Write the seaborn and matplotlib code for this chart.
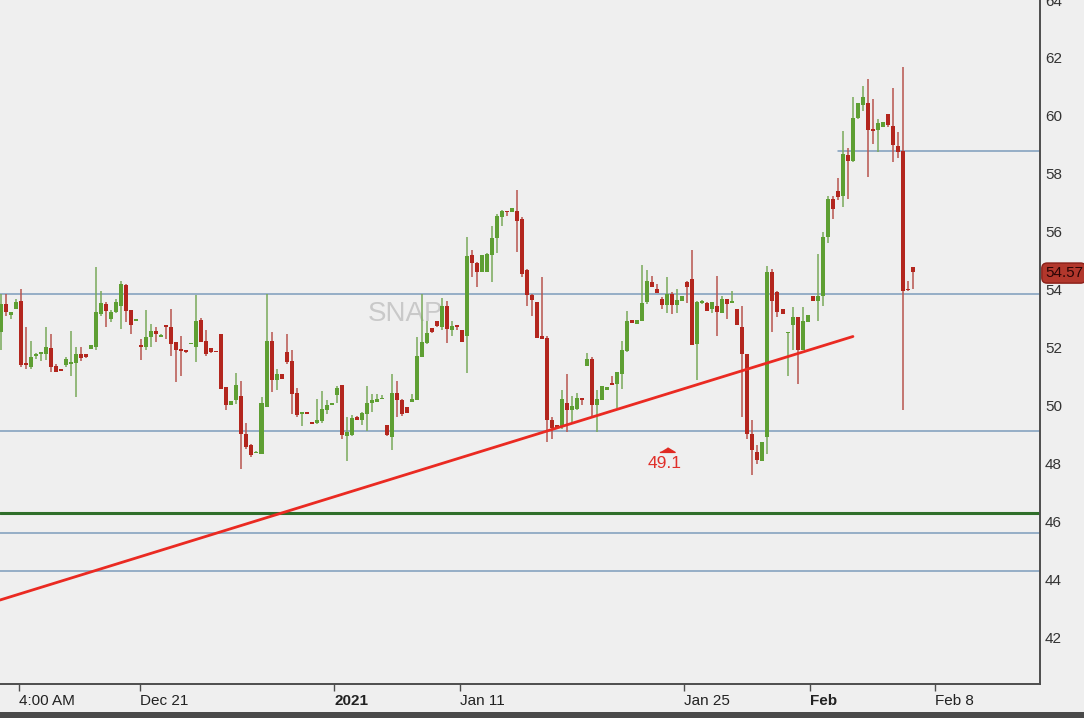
import numpy as np
import pandas as pd
import matplotlib
matplotlib.use("Agg")
import matplotlib.pyplot as plt
import seaborn as sns
from matplotlib.patches import Rectangle

# ---------------- data ----------------
opens = [52.53, 53.51, 53.13, 53.33, 53.59, 51.42, 51.34, 51.72, 51.78, 51.78,
         51.99, 51.35, 51.21, 51.38, 51.44, 51.46, 51.76, 51.76, 51.95, 52.03,
         53.16, 53.51, 52.99, 53.22, 53.45, 54.17, 53.28, 52.93, 52.05, 52.01,
         52.36, 52.56, 52.37, 52.76, 52.70, 52.18, 51.96, 51.90, 52.12, 52.01,
         52.95, 52.22, 51.98, 51.85, 52.47, 50.63, 50.00, 50.17, 50.34, 49.02,
         48.62, 48.35, 48.31, 49.96, 52.21, 50.89, 51.07, 51.84, 51.55, 50.44,
         49.71, 49.72, 49.38, 49.39, 49.46, 49.83, 50.01, 50.35, 50.72, 48.93,
         48.97, 49.60, 49.48, 49.69, 50.08, 50.12, 50.22, 49.31, 48.91, 50.43,
         50.17, 49.94, 50.12, 50.20, 51.67, 52.15, 52.67, 52.93, 52.70, 53.45,
         52.61, 52.76, 52.61, 52.41, 55.21, 54.91, 54.60, 54.60, 55.21, 55.78,
         56.52, 56.73, 56.67, 56.73, 56.44, 54.66, 53.82, 53.56, 52.41, 52.33,
         49.51, 49.31, 49.28, 50.08, 49.83, 49.89, 50.26, 51.35, 51.61, 50.00,
         50.20, 50.52, 50.77, 50.75, 51.10, 51.87, 52.95, 52.82, 52.91, 53.56,
         54.25, 54.02, 53.68, 53.48, 53.85, 53.48, 53.62, 54.25, 54.37, 52.13,
         53.53, 53.53, 53.33, 53.45, 53.18, 53.68, 53.53, 53.33, 52.72, 51.78,
         49.02, 48.39, 48.08, 48.91, 54.60, 53.91, 53.33, 52.50, 52.76, 53.04,
         51.92, 52.87, 53.79, 53.60, 53.79, 55.81, 57.13, 57.39, 57.24, 58.66,
         58.43, 59.92, 60.38, 60.46, 59.54, 59.51, 59.60, 60.06, 59.66, 58.97,
         58.77, 54.02, 54.77]
highs = [53.85, 53.85, 53.24, 53.66, 54.02, 52.70, 52.21, 51.80, 51.80, 52.70,
         52.47, 51.44, 51.22, 51.67, 52.56, 52.03, 52.03, 51.78, 52.07, 54.77,
         53.94, 53.56, 53.28, 53.68, 54.31, 54.20, 53.28, 53.00, 52.30, 53.28,
         52.82, 52.70, 52.47, 52.76, 53.33, 52.18, 52.41, 51.92, 52.14, 53.83,
         53.02, 52.59, 51.98, 51.86, 52.47, 50.63, 50.15, 51.11, 50.86, 49.39,
         48.68, 48.42, 50.29, 53.85, 52.53, 51.26, 51.07, 52.47, 51.90, 50.61,
         49.74, 49.73, 49.39, 50.23, 50.50, 50.17, 50.08, 50.66, 50.72, 49.60,
         49.66, 49.62, 49.77, 50.66, 50.40, 50.40, 50.35, 49.31, 51.09, 50.86,
         50.23, 49.94, 50.40, 52.36, 53.85, 52.93, 52.67, 52.93, 53.71, 53.62,
         52.93, 52.76, 52.61, 55.80, 55.35, 54.94, 55.21, 55.25, 56.21, 56.61,
         56.75, 56.73, 56.82, 57.44, 56.50, 54.71, 53.85, 53.56, 54.45, 52.41,
         49.60, 49.31, 50.52, 51.09, 50.31, 50.43, 50.26, 51.80, 51.67, 50.52,
         50.66, 50.63, 51.03, 51.15, 52.24, 53.25, 52.95, 52.96, 54.86, 54.66,
         54.48, 54.20, 53.76, 54.45, 53.91, 54.02, 53.79, 54.31, 55.35, 53.62,
         53.64, 53.56, 53.56, 54.48, 53.79, 53.68, 53.96, 53.33, 53.45, 51.78,
         49.48, 48.62, 48.74, 54.83, 54.71, 53.96, 53.33, 52.53, 53.41, 53.07,
         53.41, 53.13, 53.79, 55.23, 55.98, 57.24, 57.24, 57.85, 59.46, 58.89,
         60.66, 60.46, 61.03, 61.26, 60.58, 59.89, 59.80, 60.08, 60.95, 59.43,
         61.69, 54.29, 54.77]
lows = [51.90, 53.10, 53.00, 53.33, 51.32, 51.26, 51.26, 51.60, 51.55, 51.57,
        51.15, 51.15, 51.18, 51.34, 51.03, 50.29, 51.53, 51.65, 51.95, 51.90,
        53.10, 52.70, 52.87, 53.18, 52.64, 52.87, 52.45, 52.93, 51.57, 51.90,
        52.03, 52.18, 52.36, 52.30, 51.69, 50.80, 51.03, 51.82, 52.11, 51.50,
        52.18, 51.69, 51.82, 51.83, 50.57, 49.83, 50.00, 50.06, 47.82, 48.50,
        48.22, 48.34, 48.31, 49.96, 50.46, 50.52, 50.92, 51.44, 49.71, 49.60,
        49.29, 49.70, 49.36, 49.37, 49.39, 49.71, 50.00, 50.08, 48.85, 48.08,
        48.93, 49.50, 49.31, 49.12, 49.77, 50.12, 50.21, 48.93, 48.47, 49.60,
        49.62, 49.74, 50.12, 50.20, 51.67, 52.13, 52.50, 52.70, 52.59, 52.15,
        52.41, 52.59, 52.18, 51.12, 54.43, 54.08, 54.60, 54.60, 54.25, 55.25,
        56.21, 56.55, 56.67, 55.29, 54.43, 53.45, 53.10, 52.33, 52.30, 48.74,
        48.85, 49.20, 49.20, 49.08, 49.43, 49.83, 50.03, 51.35, 49.60, 49.08,
        50.20, 50.52, 50.69, 49.92, 50.57, 51.84, 52.84, 52.80, 52.91, 53.50,
        54.08, 53.87, 53.33, 53.18, 53.16, 53.18, 53.62, 53.53, 52.07, 50.89,
        53.50, 53.25, 53.18, 52.41, 53.18, 52.99, 53.53, 52.76, 49.60, 48.85,
        47.59, 47.99, 48.08, 48.33, 52.53, 53.05, 53.16, 51.03, 51.90, 50.75,
        51.92, 52.87, 53.60, 52.91, 53.45, 55.60, 56.44, 57.09, 56.86, 57.13,
        58.39, 59.89, 60.17, 57.90, 59.02, 58.74, 59.60, 59.60, 58.39, 58.54,
        49.83, 53.94, 54.02]
closes = [53.51, 53.22, 53.24, 53.56, 51.38, 51.40, 51.67, 51.74, 51.79, 52.01,
          51.32, 51.17, 51.20, 51.61, 51.50, 51.76, 51.64, 51.67, 52.07, 53.22,
          53.54, 53.25, 53.22, 53.56, 54.20, 53.25, 52.79, 52.99, 52.03, 52.36,
          52.56, 52.45, 52.39, 52.70, 52.13, 51.92, 51.88, 51.84, 52.13, 52.93,
          52.18, 51.78, 51.84, 51.84, 50.57, 50.00, 50.15, 50.69, 49.00, 48.56,
          48.28, 48.36, 50.08, 52.21, 50.89, 51.09, 50.92, 51.50, 50.40, 49.66,
          49.73, 49.71, 49.37, 49.51, 49.89, 50.00, 50.08, 50.61, 48.97, 49.08,
          49.58, 49.51, 49.74, 50.08, 50.17, 50.23, 50.23, 48.97, 50.43, 50.17,
          49.71, 49.74, 50.23, 51.69, 52.18, 52.50, 52.55, 52.73, 53.45, 52.65,
          52.73, 52.70, 52.18, 55.17, 54.91, 54.60, 55.21, 55.23, 55.78, 56.55,
          56.73, 56.67, 56.82, 56.38, 54.54, 53.80, 53.64, 52.33, 52.30, 49.51,
          49.23, 49.23, 50.23, 49.85, 49.97, 50.26, 50.20, 51.61, 50.00, 50.23,
          50.66, 50.63, 50.69, 51.15, 51.90, 52.93, 52.84, 52.95, 53.53, 54.31,
          54.08, 53.87, 53.48, 53.85, 53.48, 53.64, 53.79, 54.08, 52.07, 53.56,
          53.62, 53.25, 53.56, 53.22, 53.68, 53.50, 53.62, 52.76, 51.78, 49.02,
          48.45, 48.10, 48.74, 54.60, 53.62, 53.22, 53.16, 52.53, 53.04, 51.92,
          52.93, 53.13, 53.60, 53.79, 55.83, 57.13, 56.78, 57.21, 58.68, 58.43,
          59.92, 60.43, 60.66, 59.51, 59.49, 59.74, 59.80, 59.69, 59.00, 58.74,
          53.94, 53.97, 54.60]

tick_pos = [3.53, 27.66, 66.57, 91.62, 136.33, 161.48, 186.43]
tick_labels = ["4:00 AM", "Dec 21", "2021", "Jan 11", "Jan 25", "Feb", "Feb 8"]
bold_labels = ["2021", "Feb"]
y_ticks = [42, 44, 46, 48, 50, 52, 54, 56, 58, 60, 62, 64]

blue_levels = [53.86, 49.10, 45.59, 44.28]
upper_level = 58.79
upper_level_start = 167.1
green_level = 46.28
trend_x = [-0.2, 170.06]
trend_y = [43.28, 52.38]
last_price = 54.57
marker_value = "49.1"
marker_x, marker_y = 132.9, 48.45
symbol = "SNAP"

# ---------------- styling ----------------
sns.set_theme(style="white")
plt.rcParams['font.family'] = ['Liberation Sans', 'DejaVu Sans']

BG = "#efefef"
UP = "#5e9f33"
DOWN = "#b3261e"
UP_WICK = "#79a95a"
DOWN_WICK = "#b8554e"
AXC = "#4d4d4d"

fig = plt.figure(figsize=(10.84, 7.18), dpi=100, facecolor=BG)
ax = fig.add_axes([0.0, 1 - 684 / 718, 1040 / 1084, 684 / 718])
ax.set_facecolor(BG)

df = pd.DataFrame({"open": opens, "high": highs, "low": lows, "close": closes})
df["idx"] = np.arange(len(df))
df["up"] = df["close"] >= df["open"]
df["bottom"] = df[["open", "close"]].min(axis=1)
df["height"] = (df["close"] - df["open"]).abs().clip(lower=0.05)

# reference lines
for lv in blue_levels:
    ax.axhline(lv, color="#7d9cbc", lw=1.1, zorder=1)
ax.plot([upper_level_start, 300], [upper_level, upper_level], color="#7d9cbc", lw=1.1, zorder=1)
ax.axhline(green_level, color="#2f6e2a", lw=2.2, zorder=1)

# watermark
ax.text(80.8, 53.14, symbol, fontsize=20, color="#c9c9c9", ha="center", va="center",
        zorder=0.5)

# wicks
ax.vlines(df["idx"], df["low"], df["high"],
          colors=np.where(df["up"], UP_WICK, DOWN_WICK), lw=1.1, zorder=2)
# bodies
ax.bar(df["idx"], df["height"], bottom=df["bottom"], width=0.8,
       color=np.where(df["up"], UP, DOWN), linewidth=0, zorder=3)

# trend line
trend = pd.DataFrame({"x": trend_x, "y": trend_y})
sns.lineplot(data=trend, x="x", y="y", ax=ax, color="#ea2a22", lw=2.0, zorder=4)

# 49.1 marker
ax.plot([marker_x], [marker_y], marker=[(-2, -0.5), (2, -0.5), (0, 0.7)],
        ms=11, color="#e02a22", ls="none", zorder=5)
ax.text(marker_x - 0.4, marker_y - 0.45, marker_value, color="#e0302a", fontsize=12.5,
        ha="center", va="center", zorder=5)

ax.set_xlim(-0.2, 207.4)
ax.set_ylim(40.38, 63.97)
ax.set_xlabel("")
ax.set_ylabel("")

# spines
for s in ["top", "left"]:
    ax.spines[s].set_visible(False)
for s in ["right", "bottom"]:
    ax.spines[s].set_visible(True)
    ax.spines[s].set_color(AXC)
    ax.spines[s].set_linewidth(1.4)

# y axis on right
ax.yaxis.tick_right()
ax.set_yticks(y_ticks)
ax.set_yticklabels([str(v) for v in y_ticks])
ax.tick_params(axis="y", length=0, pad=3.5, labelsize=11, labelcolor="#333333")

# x axis
ax.set_xticks(tick_pos)
ax.set_xticklabels(tick_labels)
ax.tick_params(axis="x", bottom=True, length=5, width=1, color=AXC, pad=2.5,
               labelsize=11, labelcolor="#222222")
for lab in ax.get_xticklabels():
    lab.set_horizontalalignment("left")
    if lab.get_text() in bold_labels:
        lab.set_fontweight("bold")

# last price tag
ax.annotate(f"{last_price:.2f}", xy=(1.0, last_price), xycoords=("axes fraction", "data"),
            xytext=(3.5, 0), textcoords="offset points", ha="left", va="center",
            fontsize=11, color="#2a0505",
            bbox=dict(boxstyle="round,pad=0.2,rounding_size=0.35", fc="#b2372c", ec="#8a1f18", lw=1),
            annotation_clip=False, zorder=10)

# bottom scrollbar strip
fig.patches.append(Rectangle((0, 0), 1, 6 / 718, transform=fig.transFigure,
                             facecolor="#4a4a4a", edgecolor="none"))

fig.savefig("out.png", dpi=100, facecolor=BG)
